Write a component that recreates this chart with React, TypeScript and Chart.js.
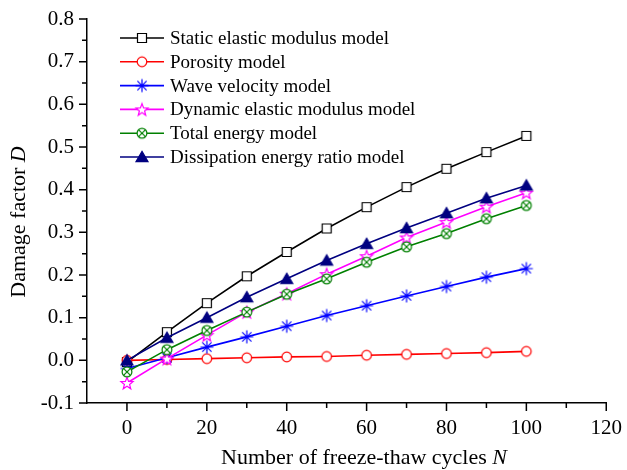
import React, { useEffect, useRef } from 'react';
import { Chart, registerables } from 'chart.js';

Chart.register(...registerables);

// ---- data ----
const cycles = [0, 10, 20, 30, 40, 50, 60, 70, 80, 90, 100];
const staticModulus = [-0.004, 0.066, 0.134, 0.197, 0.254, 0.309, 0.359, 0.406, 0.449, 0.488, 0.526];
const porosity = [0.0, 0.002, 0.004, 0.006, 0.008, 0.009, 0.012, 0.014, 0.016, 0.018, 0.021];
const waveVelocity = [-0.019, 0.006, 0.031, 0.055, 0.08, 0.105, 0.128, 0.151, 0.173, 0.195, 0.215];
const dynamicModulus = [-0.053, 0.004, 0.059, 0.113, 0.156, 0.202, 0.244, 0.288, 0.324, 0.36, 0.393];
const totalEnergy = [-0.027, 0.025, 0.07, 0.113, 0.155, 0.191, 0.23, 0.266, 0.297, 0.332, 0.363];
const dissipationRatio = [0.0, 0.053, 0.1, 0.148, 0.191, 0.234, 0.273, 0.31, 0.345, 0.38, 0.41];

const seriesNames = [
  'Static elastic modulus model',
  'Porosity model',
  'Wave velocity model',
  'Dynamic elastic modulus model',
  'Total energy model',
  'Dissipation energy ratio model',
];
const seriesValues = [staticModulus, porosity, waveVelocity, dynamicModulus, totalEnergy, dissipationRatio];
const seriesColors = ['#000000', '#ff0000', '#0000ff', '#ff00ff', '#008000', '#000080'];
const seriesMarkers = ['square', 'circle', 'asterisk', 'star', 'circleX', 'triangle'];

const xTicks = [0, 20, 40, 60, 80, 100, 120];
const xMinorTicks = [10, 30, 50, 70, 90, 110];
const yTicks = [-0.1, 0.0, 0.1, 0.2, 0.3, 0.4, 0.5, 0.6, 0.7, 0.8];
const yMinorTicks = [-0.05, 0.05, 0.15, 0.25, 0.35, 0.45, 0.55, 0.65, 0.75];

const xTitle = 'Number of freeze-thaw cycles ';
const xTitleItalic = 'N';
const yTitle = 'Damage factor ';
const yTitleItalic = 'D';

const FONT = '"Liberation Serif", "Times New Roman", serif';

function makeMarker(kind: string, color: string): HTMLCanvasElement {
  const c = document.createElement('canvas');
  c.width = 16;
  c.height = 16;
  const ctx = c.getContext('2d')!;
  const m = 8;
  ctx.strokeStyle = color;
  ctx.fillStyle = '#ffffff';
  ctx.lineWidth = 1.2;
  ctx.beginPath();
  if (kind === 'square') {
    ctx.rect(m - 4.5, m - 4.5, 9, 9);
    ctx.fill();
    ctx.stroke();
  } else if (kind === 'circle') {
    ctx.arc(m, m, 4.8, 0, Math.PI * 2);
    ctx.fill();
    ctx.stroke();
  } else if (kind === 'asterisk') {
    const r = 6.5;
    for (let k = 0; k < 4; k++) {
      const a = (k * Math.PI) / 4;
      ctx.moveTo(m + r * Math.cos(a), m + r * Math.sin(a));
      ctx.lineTo(m - r * Math.cos(a), m - r * Math.sin(a));
    }
    ctx.stroke();
  } else if (kind === 'star') {
    const ro = 6.4;
    const ri = 2.7;
    for (let k = 0; k < 10; k++) {
      const r = k % 2 === 0 ? ro : ri;
      const a = -Math.PI / 2 + (k * Math.PI) / 5;
      const px = m + r * Math.cos(a);
      const py = m + 0.6 + r * Math.sin(a);
      if (k === 0) ctx.moveTo(px, py);
      else ctx.lineTo(px, py);
    }
    ctx.closePath();
    ctx.fill();
    ctx.stroke();
  } else if (kind === 'circleX') {
    ctx.arc(m, m, 4.9, 0, Math.PI * 2);
    ctx.fill();
    ctx.stroke();
    ctx.beginPath();
    const d = 3.4;
    ctx.moveTo(m - d, m - d);
    ctx.lineTo(m + d, m + d);
    ctx.moveTo(m + d, m - d);
    ctx.lineTo(m - d, m + d);
    ctx.stroke();
  } else if (kind === 'triangle') {
    ctx.fillStyle = color;
    ctx.moveTo(m, m - 5.6);
    ctx.lineTo(m + 6, m + 4.6);
    ctx.lineTo(m - 6, m + 4.6);
    ctx.closePath();
    ctx.fill();
    ctx.stroke();
  }
  return c;
}

export default function App() {
  const canvasRef = useRef<HTMLCanvasElement | null>(null);

  useEffect(() => {
    const canvas = canvasRef.current;
    if (!canvas) return;
    const markers = seriesMarkers.map((k, i) => makeMarker(k, seriesColors[i]));

    const decor = {
      id: 'decor',
      beforeDraw(chart: any) {
        const ctx = chart.ctx;
        ctx.save();
        ctx.fillStyle = '#ffffff';
        ctx.fillRect(0, 0, chart.width, chart.height);
        ctx.restore();
      },
      afterDraw(chart: any) {
        const ctx = chart.ctx;
        const xs = chart.scales.x;
        const ys = chart.scales.y;
        const area = chart.chartArea;
        ctx.save();
        ctx.strokeStyle = '#000';
        ctx.lineWidth = 1.5;
        ctx.beginPath();
        xTicks.forEach((v) => {
          const px = xs.getPixelForValue(v);
          ctx.moveTo(px, area.bottom);
          ctx.lineTo(px, area.bottom + 8);
        });
        xMinorTicks.forEach((v) => {
          const px = xs.getPixelForValue(v);
          ctx.moveTo(px, area.bottom);
          ctx.lineTo(px, area.bottom + 5);
        });
        yTicks.forEach((v) => {
          const py = ys.getPixelForValue(v);
          ctx.moveTo(area.left, py);
          ctx.lineTo(area.left - 8, py);
        });
        yMinorTicks.forEach((v) => {
          const py = ys.getPixelForValue(v);
          ctx.moveTo(area.left, py);
          ctx.lineTo(area.left - 5, py);
        });
        ctx.stroke();

        // legend
        ctx.font = `19px ${FONT}`;
        ctx.textBaseline = 'middle';
        ctx.textAlign = 'left';
        seriesNames.forEach((name, i) => {
          const y = 38 + i * 23.8;
          ctx.strokeStyle = seriesColors[i];
          ctx.lineWidth = 1.6;
          ctx.beginPath();
          ctx.moveTo(120, y);
          ctx.lineTo(164, y);
          ctx.stroke();
          const mk = markers[i];
          ctx.drawImage(mk, 142 - mk.width / 2, y - mk.height / 2);
          ctx.fillStyle = '#000';
          ctx.fillText(name, 170, y + 1);
        });

        // axis titles
        const normal = `22px ${FONT}`;
        const ital = `italic 22px ${FONT}`;
        ctx.fillStyle = '#000';
        ctx.textBaseline = 'middle';
        ctx.font = normal;
        const w1 = ctx.measureText(xTitle).width;
        ctx.font = ital;
        const w2 = ctx.measureText(xTitleItalic).width;
        let sx = 364 - (w1 + w2) / 2;
        ctx.font = normal;
        ctx.fillText(xTitle, sx, 458);
        ctx.font = ital;
        ctx.fillText(xTitleItalic, sx + w1, 458);

        ctx.translate(19, 222);
        ctx.rotate(-Math.PI / 2);
        ctx.font = normal;
        const v1 = ctx.measureText(yTitle).width;
        ctx.font = ital;
        const v2 = ctx.measureText(yTitleItalic).width;
        sx = -(v1 + v2) / 2;
        ctx.font = normal;
        ctx.fillText(yTitle, sx, 0);
        ctx.font = ital;
        ctx.fillText(yTitleItalic, sx + v1, 0);
        ctx.restore();
      },
    };

    const datasets = seriesValues.map((vals, i) => ({
      label: seriesNames[i],
      data: cycles.map((c, j) => ({ x: c, y: vals[j] })),
      borderColor: seriesColors[i],
      backgroundColor: seriesColors[i],
      borderWidth: 1.6,
      pointStyle: markers[i],
      pointRadius: 5,
      pointHoverRadius: 5,
      tension: 0,
      fill: false,
      order: seriesValues.length - 1 - i,
    }));

    const tickFont = { family: FONT, size: 21 };

    const chart = new Chart(canvas, {
      type: 'line',
      data: { datasets },
      options: {
        animation: false,
        responsive: true,
        maintainAspectRatio: false,
        layout: { padding: { top: 19, right: 17, left: 0, bottom: 0 } },
        plugins: { legend: { display: false }, tooltip: { enabled: false } },
        scales: {
          x: {
            type: 'linear',
            min: -10,
            max: 120,
            afterBuildTicks: (s: any) => {
              s.ticks = xTicks.map((v) => ({ value: v }));
            },
            afterFit: (s: any) => {
              s.height = 67;
            },
            grid: { display: false },
            border: { display: true, color: '#000', width: 1.5 },
            ticks: {
              font: tickFont,
              color: '#000',
              padding: 5,
              maxRotation: 0,
              autoSkip: false,
              callback: (v: any) => String(v),
            },
          },
          y: {
            type: 'linear',
            min: -0.1,
            max: 0.8,
            afterBuildTicks: (s: any) => {
              s.ticks = yTicks.map((v) => ({ value: v }));
            },
            afterFit: (s: any) => {
              s.width = 87;
            },
            grid: { display: false },
            border: { display: true, color: '#000', width: 1.5 },
            ticks: {
              font: tickFont,
              color: '#000',
              padding: 5,
              autoSkip: false,
              callback: (v: any) => Number(v).toFixed(1),
            },
          },
        },
      },
      plugins: [decor],
    });

    return () => chart.destroy();
  }, []);

  return (
    <div style={{ position: 'fixed', left: 0, top: 0, width: 627, height: 470, background: '#fff' }}>
      <canvas ref={canvasRef} />
    </div>
  );
}
